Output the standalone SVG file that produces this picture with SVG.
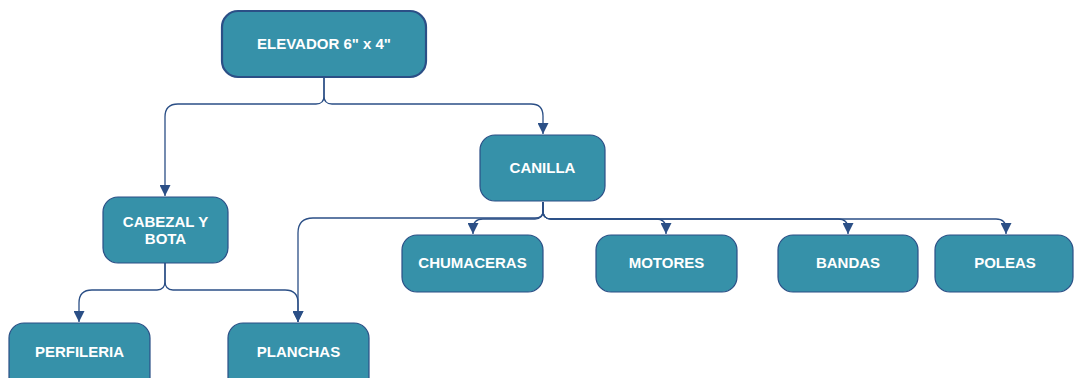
<svg xmlns="http://www.w3.org/2000/svg" width="1074" height="378" viewBox="0 0 1074 378">
<style>
.box{fill:#3691a9;stroke:#2b4f86;stroke-width:1.2}
.main{stroke-width:2.2}
.lbl{font-family:"Liberation Sans",Arial,sans-serif;font-weight:bold;font-size:15px;fill:#ffffff;text-anchor:middle}
.c{fill:none;stroke:#2b4f86;stroke-width:1.3}
</style>
<defs>
<marker id="ah" viewBox="0 0 10 10" refX="10" refY="5" markerWidth="12" markerHeight="11" markerUnits="userSpaceOnUse" orient="auto">
<path d="M0,0 L10,5 L0,10 Z" fill="#2b4f86"/>
</marker>
</defs>
<g id="connectors">
<path class="c" d="M324,77 V96 Q324,104 316,104 H178 Q165,104 165,117 V196" marker-end="url(#ah)"/>
<path class="c" d="M324,77 V96 Q324,104 332,104 H531 Q543,104 543,116 V134" marker-end="url(#ah)"/>
<path class="c" d="M543,202 V211 Q543,219 535,219 H483 Q473,219 473,229 V234" marker-end="url(#ah)"/>
<path class="c" d="M543,202 V211 Q543,219 551,219 H656 Q666,219 666,229 V234" marker-end="url(#ah)"/>
<path class="c" d="M543,202 V211 Q543,219 551,219 H838 Q848,219 848,229 V234" marker-end="url(#ah)"/>
<path class="c" d="M543,202 V211 Q543,219 551,219 H996 Q1006,219 1006,229 V234" marker-end="url(#ah)"/>
<path class="c" d="M543,202 V211 Q543,218 535,218 H313 Q298,218 298,233 V322" marker-end="url(#ah)"/>
<path class="c" d="M165,263 V281 Q165,290 157,290 H92 Q79,290 79,303 V322" marker-end="url(#ah)"/>
<path class="c" d="M165,263 V281 Q165,290 173,290 H285 Q298,290 298,303 V322" marker-end="url(#ah)"/>
</g>
<g id="n-elevador">
<rect class="box main" x="222" y="11" width="204" height="66" rx="16"/>
<text class="lbl" x="324" y="49">ELEVADOR 6" x 4"</text>
</g>
<g id="n-canilla">
<rect class="box" x="480" y="135" width="125" height="66" rx="15"/>
<text class="lbl" x="542.5" y="173">CANILLA</text>
</g>
<g id="n-cabezal">
<rect class="box" x="103" y="197" width="125" height="66" rx="15"/>
<text class="lbl" x="165.5" y="227">CABEZAL Y</text>
<text class="lbl" x="165.5" y="244">BOTA</text>
</g>
<g id="n-chumaceras">
<rect class="box" x="402" y="235" width="141" height="57" rx="15"/>
<text class="lbl" x="472.5" y="268">CHUMACERAS</text>
</g>
<g id="n-motores">
<rect class="box" x="596" y="235" width="141" height="57" rx="15"/>
<text class="lbl" x="666.5" y="268">MOTORES</text>
</g>
<g id="n-bandas">
<rect class="box" x="778" y="235" width="140" height="57" rx="15"/>
<text class="lbl" x="848" y="268">BANDAS</text>
</g>
<g id="n-poleas">
<rect class="box" x="935" y="235" width="138" height="57" rx="15"/>
<text class="lbl" x="1005" y="268">POLEAS</text>
</g>
<g id="n-perfileria">
<rect class="box" x="9" y="323" width="141" height="70" rx="15"/>
<text class="lbl" x="79.5" y="357">PERFILERIA</text>
</g>
<g id="n-planchas">
<rect class="box" x="228" y="323" width="141" height="70" rx="15"/>
<text class="lbl" x="298.5" y="357">PLANCHAS</text>
</g>
</svg>
